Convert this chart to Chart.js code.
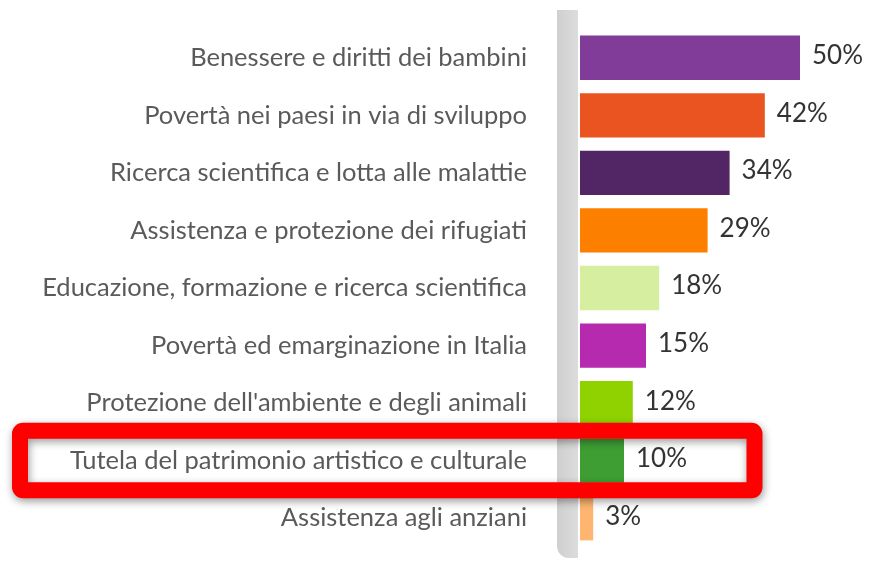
<!DOCTYPE html>
<html>
<head>
<meta charset="utf-8">
<script src="https://cdn.jsdelivr.net/npm/chart.js@4"></script>
<style>
html,body{margin:0;padding:0;background:#fff;}
canvas{display:block;}
</style>
</head>
<body>
<canvas id="c" width="871" height="563"></canvas>
<script>
const categories = [
  "Benessere e diritti dei bambini",
  "Povertà nei paesi in via di sviluppo",
  "Ricerca scientifica e lotta alle malattie",
  "Assistenza e protezione dei rifugiati",
  "Educazione, formazione e ricerca scientifica",
  "Povertà ed emarginazione in Italia",
  "Protezione dell'ambiente e degli animali",
  "Tutela del patrimonio artistico e culturale",
  "Assistenza agli anziani"
];
const values = [50, 42, 34, 29, 18, 15, 12, 10, 3];
const valueLabels = ["50%", "42%", "34%", "29%", "18%", "15%", "12%", "10%", "3%"];
const barColors = ["#813c9a", "#e95420", "#522664", "#fd7f00", "#d5eea0", "#b52aae", "#8fd200", "#3e9e34", "#fdb56f"];
const highlightIndex = 7;

const bandPlugin = {
  id: 'band',
  beforeDatasetsDraw(chart) {
    const ctx = chart.ctx, a = chart.chartArea;
    ctx.save();
    const x0 = a.left - 23, w = 21, y0 = 10, h = 548;
    const g = ctx.createLinearGradient(x0, 0, x0 + w, 0);
    g.addColorStop(0, '#cfcfcf');
    g.addColorStop(1, '#dcdcdc');
    ctx.fillStyle = g;
    ctx.beginPath();
    ctx.roundRect(x0, y0, w, h, [0, 0, 0, 12]);
    ctx.fill();
    ctx.restore();
  }
};

const valuePlugin = {
  id: 'values',
  afterDatasetsDraw(chart) {
    const ctx = chart.ctx;
    const meta = chart.getDatasetMeta(0);
    ctx.save();
    ctx.font = '26px Lato';
    ctx.fillStyle = '#333333';
    ctx.textAlign = 'left';
    ctx.textBaseline = 'middle';
    meta.data.forEach((bar, i) => {
      ctx.fillText(valueLabels[i], bar.x + 12, bar.y - 2);
    });
    ctx.restore();
  }
};

const boxPlugin = {
  id: 'box',
  afterDraw(chart) {
    const ctx = chart.ctx;
    const y = chart.scales.y.getPixelForValue(highlightIndex);
    ctx.save();
    ctx.shadowColor = 'rgba(0,0,0,0.4)';
    ctx.shadowBlur = 8;
    ctx.shadowOffsetX = 1;
    ctx.shadowOffsetY = 3;
    ctx.strokeStyle = '#ff0000';
    ctx.lineWidth = 16;
    ctx.beginPath();
    ctx.roundRect(20, y - 30, 734.5, 59.5, 3);
    ctx.stroke();
    ctx.restore();
  }
};

new Chart(document.getElementById('c'), {
  type: 'bar',
  data: {
    labels: categories,
    datasets: [{
      data: values,
      backgroundColor: barColors,
      borderWidth: 0,
      barPercentage: 0.77,
      categoryPercentage: 1.0
    }]
  },
  options: {
    indexAxis: 'y',
    responsive: false,
    animation: false,
    layout: { padding: { top: 29, bottom: 16, left: 0, right: 5 } },
    plugins: { legend: { display: false }, tooltip: { enabled: false } },
    scales: {
      x: { display: false, min: 0, max: 65 },
      y: {
        afterFit(scale) { scale.width = 580; scale.paddingTop = 0; scale.paddingBottom = 0; },
        grid: { display: false, drawTicks: false },
        border: { display: false },
        ticks: {
          padding: 53,
          color: '#5a5a5a',
          font: { family: 'Lato', size: 25.5 }
        }
      }
    }
  },
  plugins: [bandPlugin, valuePlugin, boxPlugin]
});
</script>
</body>
</html>
